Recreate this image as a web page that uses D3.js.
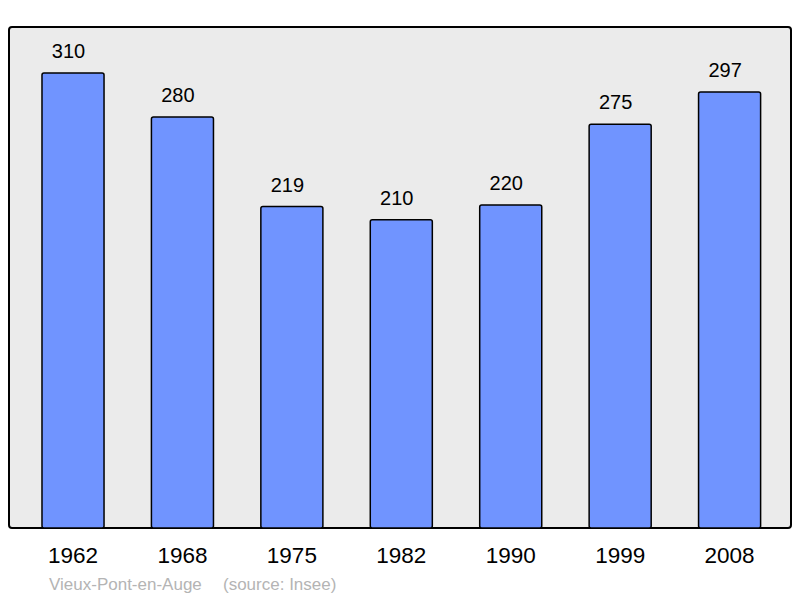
<!DOCTYPE html>
<html><head><meta charset="utf-8">
<script src="https://cdn.jsdelivr.net/npm/d3@7"></script>
<style>body{margin:0;background:#fff}svg{display:block;font-family:"Liberation Sans",Arial,sans-serif}</style>
</head><body>
<svg id="c" width="800" height="598"></svg>
<script>
const years = ["1962","1968","1975","1982","1990","1999","2008"];
const population = [310,280,219,210,220,275,297];
const commune = "Vieux-Pont-en-Auge";
const source = "(source: Insee)";

const svg = d3.select("#c");
const x = d3.scaleBand().domain(years).range([18.3, 784.3]).paddingInner(0.433).paddingOuter(0.2165);
const y = d3.scaleLinear().domain([0, 341.3]).range([528, 27]);

svg.append("rect").attr("x",9).attr("y",27).attr("width",782).attr("height",501)
  .attr("rx",3).attr("fill","#ebebeb").attr("stroke","#000").attr("stroke-width",2);

svg.selectAll("rect.bar").data(population).join("rect").attr("class","bar")
  .attr("x",(d,i)=>x(years[i])).attr("y",d=>y(d))
  .attr("width",x.bandwidth()).attr("height",d=>y(0)-y(d))
  .attr("rx",2).attr("fill","#7094ff").attr("stroke","#000").attr("stroke-width",1.5);

svg.selectAll("text.val").data(population).join("text").attr("class","val")
  .attr("x",(d,i)=>x(years[i])+x.bandwidth()/2-4.5).attr("y",d=>y(d)-15)
  .attr("text-anchor","middle").attr("font-size",20).attr("fill","#000").text(d=>d);

const ax = svg.append("g").attr("transform","translate(0,528)")
  .call(d3.axisBottom(x).tickSize(0).tickPadding(19));
ax.select(".domain").remove();
ax.selectAll("text").attr("font-size",22.5).attr("fill","#000").attr("font-family","Liberation Sans, Arial, sans-serif");

svg.append("text").attr("x",49).attr("y",590).attr("font-size",17).attr("fill","#b4b4b4").text(commune);
svg.append("text").attr("x",223).attr("y",590).attr("font-size",17).attr("fill","#b4b4b4").text(source);
</script>
</body></html>
